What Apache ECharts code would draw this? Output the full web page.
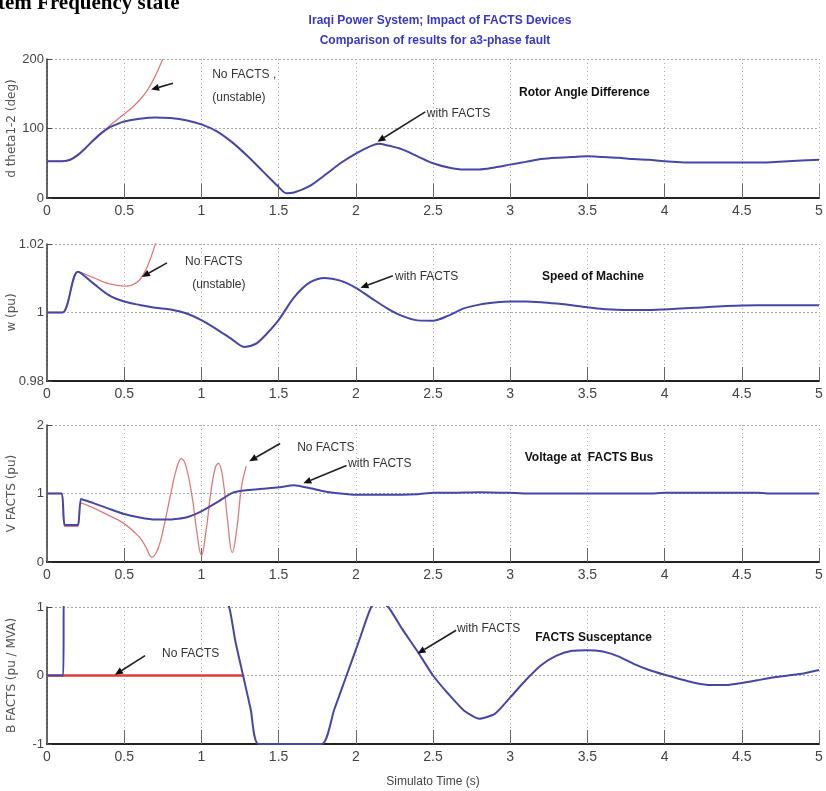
<!DOCTYPE html>
<html>
<head>
<meta charset="utf-8">
<script src="https://cdn.jsdelivr.net/npm/echarts@6/dist/echarts.min.js"></script>
<style>
html, body { margin: 0; padding: 0; background: #fff; }
#main { width: 826px; height: 791px; }
</style>
</head>
<body>
<div id="main"></div>
<script>
// 4 stacked plots: rotor angle, speed, FACTS bus voltage, FACTS susceptance
var chart = echarts.init(document.getElementById('main'));

// rotor angle difference (deg)
var angleT = [0, 0.1, 0.15, 0.2, 0.25, 0.3, 0.35, 0.4, 0.45, 0.5, 0.6, 0.7, 0.8, 0.9, 1.0, 1.1, 1.2, 1.3, 1.4, 1.5, 1.55, 1.6, 1.7, 1.8, 1.9, 2.0, 2.1, 2.15, 2.2, 2.3, 2.4, 2.5, 2.6, 2.7, 2.8, 2.9, 3.0, 3.1, 3.2, 3.3, 3.4, 3.5, 3.6, 3.7, 3.8, 3.9, 4.0, 4.2, 4.4, 4.6, 4.8, 5.0];
var angleWith = [53, 53, 55, 62, 72, 83, 93, 101, 106, 110, 114, 116, 115, 112, 106, 96, 80, 60, 38, 16, 7, 8, 17, 33, 50, 64, 75, 78, 76, 70, 60, 50, 44, 41, 41, 44, 48, 52, 56, 58, 59, 60, 59, 58, 56, 55, 53, 51, 51, 51, 53, 55];
var angleNoT = [0, 0.1, 0.15, 0.2, 0.25, 0.3, 0.35, 0.4, 0.45, 0.5, 0.55, 0.6, 0.65, 0.7, 0.75];
var angleNo = [53, 53, 55, 62, 72, 83, 93, 103, 112, 121, 130, 141, 155, 175, 200];

// speed of machine (pu)
var speedT = [0, 0.1, 0.2, 0.3, 0.4, 0.5, 0.6, 0.7, 0.8, 0.9, 1.0, 1.1, 1.2, 1.28, 1.35, 1.4, 1.5, 1.6, 1.7, 1.8, 1.9, 2.0, 2.1, 2.2, 2.3, 2.4, 2.5, 2.6, 2.7, 2.8, 2.9, 3.0, 3.1, 3.2, 3.3, 3.4, 3.5, 3.6, 3.7, 3.8, 3.9, 4.0, 4.2, 4.4, 4.6, 4.8, 5.0];
var speedWith = [1.0, 1.0, 1.0119, 1.0085, 1.0051, 1.0032, 1.0022, 1.0014, 1.0009, 0.9998, 0.9978, 0.9951, 0.9921, 0.9899, 0.9908, 0.9927, 0.9978, 1.0044, 1.0087, 1.0101, 1.0093, 1.0072, 1.0042, 1.0013, 0.9990, 0.9977, 0.9976, 0.9991, 1.0012, 1.0023, 1.0029, 1.0032, 1.0032, 1.0030, 1.0026, 1.0021, 1.0015, 1.0010, 1.0008, 1.0007, 1.0007, 1.0009, 1.0014, 1.0019, 1.0021, 1.0021, 1.0021];
var speedNoT = [0, 0.1, 0.2, 0.3, 0.4, 0.5, 0.55, 0.6, 0.65, 0.7, 0.72];
var speedNo = [1.0, 1.0, 1.0119, 1.0102, 1.0084, 1.0077, 1.0080, 1.0095, 1.0134, 1.0197, 1.023];

// voltage at FACTS bus (pu)
var voltT = [0, 0.095, 0.115, 0.2, 0.22, 0.3, 0.4, 0.5, 0.6, 0.7, 0.8, 0.9, 1.0, 1.1, 1.2, 1.3, 1.4, 1.5, 1.6, 1.7, 1.8, 1.9, 2.0, 2.2, 2.4, 2.5, 2.6, 2.8, 3.0, 3.1, 3.5, 3.9, 4.0, 4.6, 4.7, 5.0];
var voltWith = [1, 1, 0.54, 0.54, 0.92, 0.86, 0.78, 0.70, 0.65, 0.62, 0.62, 0.65, 0.74, 0.87, 1.01, 1.05, 1.07, 1.09, 1.12, 1.08, 1.03, 1.0, 0.98, 0.98, 0.99, 1.01, 1.01, 1.02, 1.01, 1.0, 1.0, 1.0, 1.01, 1.01, 1.0, 1.0];
var voltNoT = [0, 0.095, 0.115, 0.2, 0.22, 0.3, 0.4, 0.5, 0.6, 0.64, 0.68, 0.72, 0.76, 0.8, 0.84, 0.87, 0.9, 0.94, 0.97, 1.0, 1.03, 1.06, 1.09, 1.11, 1.14, 1.17, 1.2, 1.23, 1.26, 1.29];
var voltNo = [1, 1, 0.52, 0.52, 0.86, 0.79, 0.68, 0.56, 0.36, 0.22, 0.07, 0.2, 0.55, 0.98, 1.37, 1.51, 1.40, 0.95, 0.45, 0.1, 0.45, 1.0, 1.38, 1.44, 1.2, 0.6, 0.14, 0.5, 1.1, 1.4];

// FACTS susceptance (pu / MVA)
var suscT = [0, 0.105, 0.11, 1.12, 1.18, 1.22, 1.27, 1.32, 1.37, 1.78, 1.86, 1.94, 2.02, 2.1, 2.15, 2.21, 2.3, 2.4, 2.5, 2.6, 2.7, 2.8, 2.9, 3.0, 3.1, 3.2, 3.3, 3.4, 3.5, 3.6, 3.7, 3.8, 3.9, 4.0, 4.1, 4.2, 4.3, 4.4, 4.5, 4.6, 4.7, 4.8, 4.9, 5.0];
var suscWith = [0, 0, 1.3, 1.3, 1.0, 0.5, 0, -0.5, -1, -1, -0.5, 0, 0.5, 1.0, 1.08, 1.0, 0.68, 0.35, 0.0, -0.27, -0.51, -0.63, -0.56, -0.32, -0.07, 0.15, 0.29, 0.36, 0.37, 0.35, 0.28, 0.17, 0.08, 0.01, -0.05, -0.11, -0.14, -0.14, -0.11, -0.07, -0.03, 0.0, 0.03, 0.08];
var suscNoT = [0, 1.27];
var suscNo = [0, 0];

function pairs(t, v) {
    var out = [];
    for (var i = 0; i < t.length; i++) out.push([t[i], v[i]]);
    return out;
}

var BLUE = '#4646a6';
var RED = '#e07a7a';
var NARROW = "'Liberation Sans Narrow', 'Liberation Sans', Arial, sans-serif";

var panels = [
    { top: 59, height: 139, min: 0, max: 200, interval: 100, name: 'd theta1-2 (deg)',
      red: pairs(angleNoT, angleNo), blue: pairs(angleT, angleWith), redW: 1.3, smooth: 0.3 },
    { top: 244, height: 137, min: 0.98, max: 1.02, interval: 0.02, name: 'w (pu)',
      red: pairs(speedNoT, speedNo), blue: pairs(speedT, speedWith), redW: 1.3, smooth: 0.3 },
    { top: 425, height: 137, min: 0, max: 2, interval: 1, name: 'V FACTS (pu)',
      red: pairs(voltNoT, voltNo), blue: pairs(voltT, voltWith), redW: 1.3, smooth: 0.15 },
    { top: 607, height: 137, min: -1, max: 1, interval: 1, name: 'B FACTS (pu / MVA)',
      red: pairs(suscNoT, suscNo), blue: pairs(suscT, suscWith), redW: 2.5, redColor: '#e03a3a', smooth: 0.2 }
];

var grid = [], xAxis = [], yAxis = [], series = [];
panels.forEach(function (p, i) {
    grid.push({ left: 47, width: 772, top: p.top, height: p.height, outerBoundsMode: 'none' });
    xAxis.push({
        type: 'value', gridIndex: i, min: 0, max: 5, interval: 0.5,
        name: i === 3 ? 'Simulato Time (s)' : '',
        nameLocation: 'middle', nameGap: 32, nameMoveOverlap: false,
        nameTextStyle: { fontFamily: NARROW, fontSize: 12, color: '#444' },
        axisLine: { onZero: false, lineStyle: { color: '#222', width: 2 } },
        axisTick: { show: true, inside: true, length: 14, lineStyle: { color: '#666', width: 1 } },
        axisLabel: { fontFamily: NARROW, fontSize: 14, color: '#444', margin: 6,
            formatter: function (v) { return String(+v.toFixed(1)); } },
        splitLine: { show: true, lineStyle: { color: '#aaa', type: [1, 3], width: 1 } }
    });
    yAxis.push({
        type: 'value', gridIndex: i, min: p.min, max: p.max, interval: p.interval,
        name: p.name, nameLocation: 'middle', nameGap: 29, nameMoveOverlap: false,
        nameTextStyle: { fontFamily: "'DejaVu Sans', sans-serif", fontSize: 12, color: '#555' },
        axisLine: { show: true, onZero: false, lineStyle: { color: '#333', width: 1.5 } },
        axisTick: { show: true, inside: true, length: 5, lineStyle: { color: '#444' } },
        axisLabel: { fontFamily: NARROW, fontSize: 13, color: '#444', margin: 3,
            formatter: function (v) { return String(+v.toFixed(2)); } },
        splitLine: { show: true, lineStyle: { color: '#aaa', type: [2, 2], width: 1 } }
    });
    series.push({
        type: 'line', xAxisIndex: i, yAxisIndex: i, data: p.red,
        showSymbol: false, clip: true, z: 2,
        smooth: i === 2 ? 0.45 : p.smooth,
        lineStyle: { color: p.redColor || RED, width: p.redW }
    });
    series.push({
        type: 'line', xAxisIndex: i, yAxisIndex: i, data: p.blue,
        showSymbol: false, clip: true, z: 3,
        smooth: p.smooth,
        lineStyle: { color: BLUE, width: 2 }
    });
});

chart.setOption({
    animation: false,
    backgroundColor: '#fff',
    grid: grid, xAxis: xAxis, yAxis: yAxis, series: series
});

// annotations in data coordinates: [panel, t, value, text, bold]
var notes = [
    [0, 1.07, 177, 'No FACTS ,', false], [0, 1.07, 145, '(unstable)', false],
    [0, 2.46, 122, 'with FACTS', false], [0, 3.48, 151, 'Rotor Angle Difference', true],
    [1, 0.894, 1.0147, 'No FACTS', false], [1, 0.94, 1.0080, '(unstable)', false],
    [1, 2.254, 1.0104, 'with FACTS', false], [1, 3.536, 1.0104, 'Speed of Machine', true],
    [2, 1.62, 1.67, 'No FACTS', false], [2, 1.95, 1.44, 'with FACTS', false],
    [2, 3.51, 1.53, 'Voltage at  FACTS Bus', true],
    [3, 0.745, 0.32, 'No FACTS', false], [3, 2.655, 0.69, 'with FACTS', false],
    [3, 3.54, 0.55, 'FACTS Susceptance', true]
];
// arrows: [panel, tail t, tail value, head t, head value]
var arrows = [
    [0, 0.816, 165, 0.674, 156], [0, 2.45, 124, 2.14, 81],
    [1, 0.777, 1.0145, 0.615, 1.0104], [1, 2.24, 1.0107, 2.03, 1.0072],
    [2, 1.51, 1.73, 1.31, 1.47], [2, 1.94, 1.41, 1.66, 1.15],
    [3, 0.635, 0.29, 0.44, 0.01], [3, 2.65, 0.66, 2.40, 0.32]
];

var gfx = [];
notes.forEach(function (n) {
    var pt = chart.convertToPixel({ gridIndex: n[0] }, [n[1], n[2]]);
    gfx.push({
        type: 'text', x: pt[0], y: pt[1], z: 10,
        style: {
            text: n[3], fill: n[4] ? '#111' : '#333',
            font: (n[4] ? 'bold 12px ' : '12px ') + NARROW,
            textAlign: n[4] ? 'center' : 'left', textVerticalAlign: 'middle'
        }
    });
});
arrows.forEach(function (a) {
    var p0 = chart.convertToPixel({ gridIndex: a[0] }, [a[1], a[2]]);
    var p1 = chart.convertToPixel({ gridIndex: a[0] }, [a[3], a[4]]);
    var dx = p1[0] - p0[0], dy = p1[1] - p0[1];
    var len = Math.sqrt(dx * dx + dy * dy);
    var ux = dx / len, uy = dy / len;
    var hl = 8, hw = 3.5;
    var bx = p1[0] - ux * hl, by = p1[1] - uy * hl;
    gfx.push({
        type: 'line', z: 10,
        shape: { x1: p0[0], y1: p0[1], x2: bx, y2: by },
        style: { stroke: '#222', lineWidth: 1.6 }
    });
    gfx.push({
        type: 'polygon', z: 10,
        shape: { points: [[p1[0], p1[1]], [bx - uy * hw, by + ux * hw], [bx + uy * hw, by - ux * hw]] },
        style: { fill: '#111' }
    });
});

// headings
gfx.push({ type: 'text', x: 440, y: 21, style: { text: 'Iraqi Power System; Impact of FACTS Devices',
    fill: '#3838c8', font: 'bold 12px ' + NARROW, textAlign: 'center', textVerticalAlign: 'middle' } });
gfx.push({ type: 'text', x: 435, y: 41, style: { text: 'Comparison of results for a3-phase fault',
    fill: '#3838c8', font: 'bold 12px ' + NARROW, textAlign: 'center', textVerticalAlign: 'middle' } });
gfx.push({ type: 'text', x: -2, y: 14, style: { text: 'tem Frequency state',
    fill: '#000', font: 'bold 21px "Liberation Serif", serif', textAlign: 'left', textVerticalAlign: 'bottom' } });

chart.setOption({ graphic: gfx });
</script>
</body>
</html>
